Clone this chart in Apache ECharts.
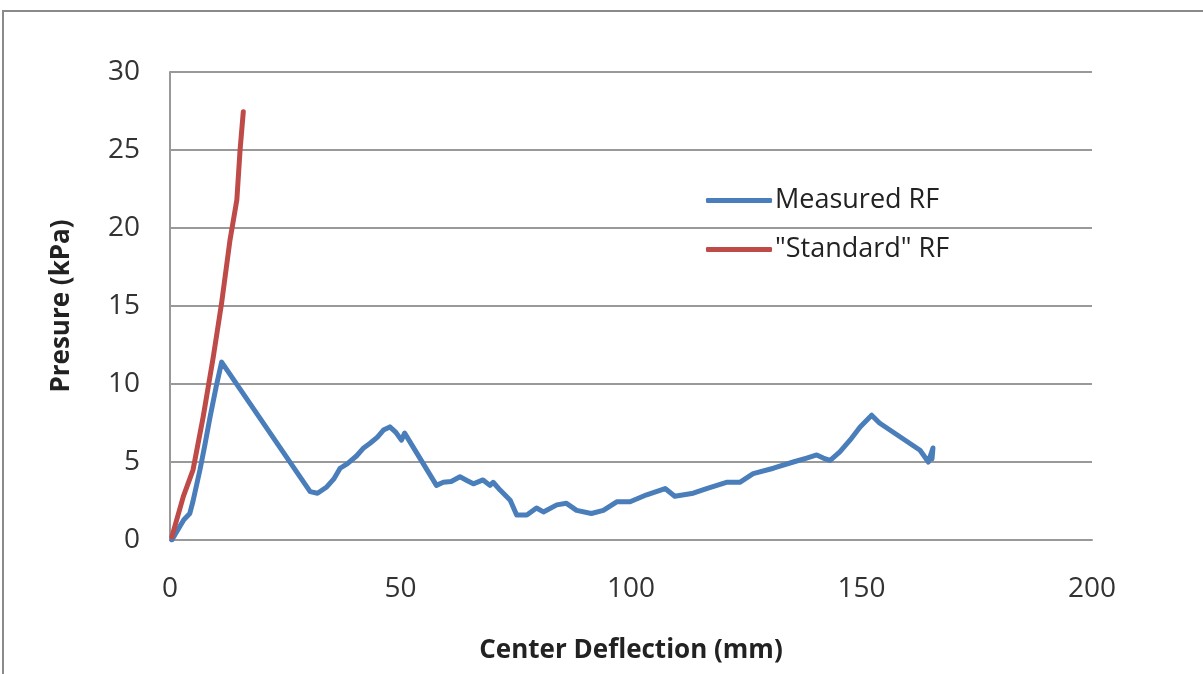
<!DOCTYPE html>
<html>
<head>
<meta charset="utf-8">
<script src="https://cdn.jsdelivr.net/npm/echarts@6/dist/echarts.min.js"></script>
<style>
  html, body { margin: 0; padding: 0; background: #fff; }
  #chart { width: 1203px; height: 674px; }
</style>
</head>
<body>
<div id="chart"></div>
<script>
// values
const measuredX = [0.4, 2, 3, 4.3, 5, 6.5, 7.5, 8.7, 10, 11.2, 30.4, 32, 34, 35.5, 36.9, 38.5, 40.5, 42, 43.4, 45, 46.3, 47.7, 49, 50.2, 50.9, 57.8, 59.3, 61, 62.9, 64.5, 65.8, 67.9, 69.4, 70.1, 71.6, 73.8, 75.2, 77.4, 79.5, 81, 83.9, 86, 88.2, 91.4, 94, 96.9, 99.8, 103.4, 107.4, 109.5, 113.5, 116.4, 120.7, 123.6, 126.5, 130.9, 135.2, 138.1, 140.3, 141.7, 143.2, 145.3, 147.5, 149.7, 152.2, 153.9, 162.7, 164.5, 165.5, 165.3];
const measuredY = [0, 0.8, 1.3, 1.7, 2.5, 4.5, 6, 7.9, 9.8, 11.4, 3.1, 3.0, 3.4, 3.9, 4.6, 4.9, 5.4, 5.9, 6.2, 6.6, 7.05, 7.25, 6.9, 6.4, 6.85, 3.5, 3.7, 3.75, 4.05, 3.8, 3.6, 3.85, 3.5, 3.7, 3.2, 2.55, 1.6, 1.6, 2.05, 1.8, 2.25, 2.35, 1.9, 1.7, 1.9, 2.45, 2.45, 2.9, 3.3, 2.8, 3.0, 3.3, 3.7, 3.7, 4.25, 4.6, 5.0, 5.25, 5.45, 5.25, 5.1, 5.65, 6.4, 7.25, 8.0, 7.5, 5.75, 5.0, 5.9, 5.2];
const standardX = [0.4, 2.9, 5, 7.2, 9.4, 11.2, 13, 14.5, 15.2, 15.9];
const standardY = [0.2, 2.8, 4.5, 7.9, 11.75, 15.2, 19.2, 21.8, 25, 27.45];
const seriesNames = ['Measured RF', '"Standard" RF'];

const zip = (xs, ys) => xs.map((x, i) => [x, ys[i]]);
const font = '"Open Sans", Lato, sans-serif';

const chart = echarts.init(document.getElementById('chart'));
chart.setOption({
    animation: false,
    backgroundColor: '#fff',
    graphic: [{
        type: 'rect',
        shape: { x: 3, y: 11, width: 1300, height: 800 },
        style: { fill: 'none', stroke: '#8a8a8a', lineWidth: 2 }
    }],
    grid: { left: 170, right: 111, top: 72, bottom: 134 },
    legend: {
        orient: 'vertical',
        left: 701,
        top: 182,
        itemGap: 22,
        itemWidth: 66,
        itemHeight: 5,
        icon: 'roundRect',
        data: seriesNames,
        textStyle: { fontFamily: font, fontSize: 27, color: '#222', padding: [0, 0, 0, -2] }
    },
    xAxis: {
        type: 'value',
        min: 0, max: 200, interval: 50,
        name: 'Center Deflection (mm)',
        nameLocation: 'middle',
        nameGap: 98,
        nameTextStyle: { fontFamily: font, fontSize: 26, fontWeight: 'bold', color: '#222' },
        axisLine: { show: true, lineStyle: { color: '#999', width: 2 } },
        axisTick: { show: false },
        splitLine: { show: false },
        axisLabel: { margin: 35, fontFamily: font, fontSize: 28, color: '#333' }
    },
    yAxis: {
        type: 'value',
        min: 0, max: 30, interval: 5,
        name: 'Presure (kPa)',
        nameLocation: 'middle',
        nameGap: 95,
        nameTextStyle: { fontFamily: font, fontSize: 26, fontWeight: 'bold', color: '#222' },
        axisLine: { show: true, lineStyle: { color: '#999', width: 2 } },
        axisTick: { show: false },
        splitLine: { show: true, lineStyle: { color: '#999', width: 2 } },
        axisLabel: { margin: 30, fontFamily: font, fontSize: 28, color: '#333' }
    },
    series: [
        {
            name: seriesNames[0],
            type: 'line',
            data: zip(measuredX, measuredY),
            showSymbol: false,
            lineStyle: { color: '#4a7ebb', width: 5, join: 'round', cap: 'round' },
            itemStyle: { color: '#4a7ebb' }
        },
        {
            name: seriesNames[1],
            type: 'line',
            data: zip(standardX, standardY),
            showSymbol: false,
            lineStyle: { color: '#be4b48', width: 5, join: 'round', cap: 'round' },
            itemStyle: { color: '#be4b48' }
        }
    ]
});
</script>
</body>
</html>
